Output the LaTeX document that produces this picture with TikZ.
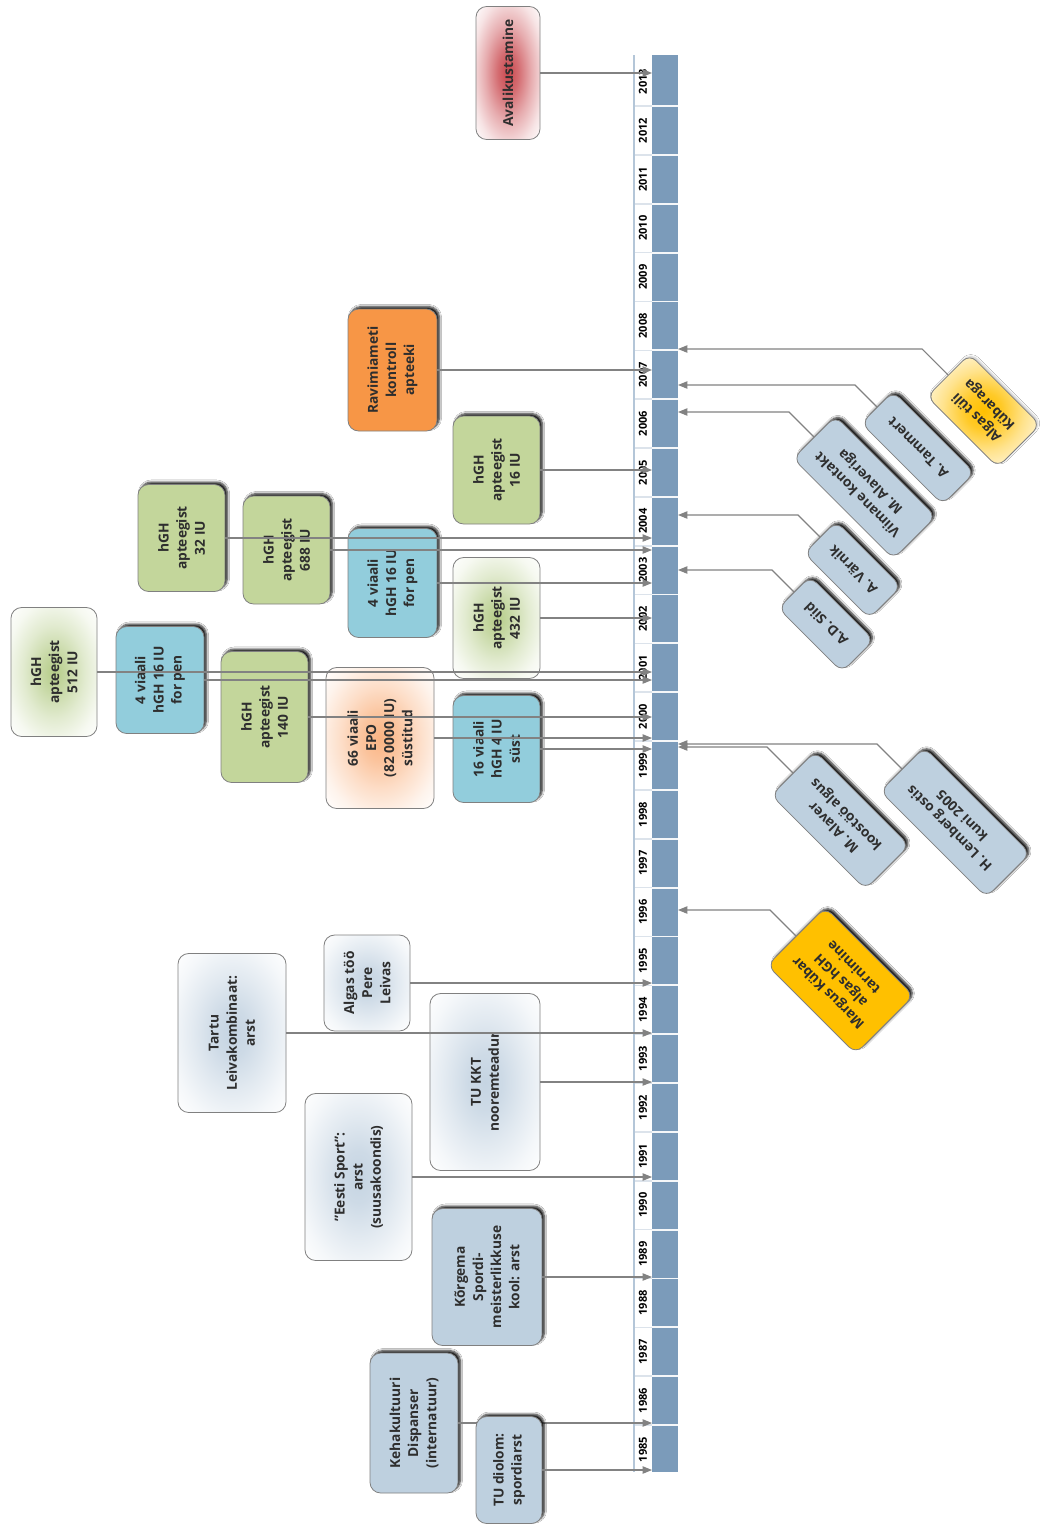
\documentclass[tikz,border=0pt]{standalone}
\usepackage{fontspec}
\setmainfont{Open Sans}
\usetikzlibrary{arrows.meta,shadows.blur}
\definecolor{txt}{HTML}{2E2E2E}
\definecolor{bord}{HTML}{808080}
\definecolor{lgray}{HTML}{828282}
\definecolor{cgreen}{HTML}{C3D69B}
\definecolor{cblue}{HTML}{92CDDC}
\definecolor{corange}{HTML}{F79646}
\definecolor{cslate}{HTML}{BED0DF}
\definecolor{cyellow}{HTML}{FFC000}
\definecolor{cred}{HTML}{C9474D}
\definecolor{cpeach}{HTML}{FAB483}
\definecolor{cmist}{HTML}{C5D4E2}
\definecolor{cgglow}{HTML}{B5CC88}
\definecolor{cbar}{HTML}{7B9BBA}
\definecolor{cstrip}{HTML}{B4C6D8}
\definecolor{csep}{HTML}{DCE3EB}
\pgfdeclareradialshading{glowred}{\pgfpoint{0bp}{0bp}}{color(0bp)=(cred); color(8bp)=(cred!80!white); color(18bp)=(cred!45!white); color(28bp)=(cred!15!white); color(36bp)=(white); color(50bp)=(white)}
\pgfdeclareradialshading{glowgreen}{\pgfpoint{0bp}{0bp}}{color(0bp)=(cgglow); color(8bp)=(cgglow!75!white); color(18bp)=(cgglow!40!white); color(28bp)=(cgglow!12!white); color(36bp)=(white); color(50bp)=(white)}
\pgfdeclareradialshading{glowpeach}{\pgfpoint{0bp}{0bp}}{color(0bp)=(cpeach); color(8bp)=(cpeach!80!white); color(18bp)=(cpeach!45!white); color(28bp)=(cpeach!15!white); color(36bp)=(white); color(50bp)=(white)}
\pgfdeclareradialshading{glowmist}{\pgfpoint{0bp}{0bp}}{color(0bp)=(cmist); color(8bp)=(cmist!85!white); color(18bp)=(cmist!50!white); color(28bp)=(cmist!18!white); color(36bp)=(white); color(50bp)=(white)}
\pgfdeclareradialshading{glowyellow}{\pgfpoint{0bp}{0bp}}{color(0bp)=(cyellow); color(8bp)=(cyellow!85!white); color(18bp)=(cyellow!45!white); color(28bp)=(cyellow!15!white); color(36bp)=(white); color(50bp)=(white)}
\tikzset{
  every node/.style={font=\bfseries\fontsize{10.3}{13.6}\selectfont, text=txt, align=center},
  sz/.style 2 args={minimum width=#1*0.75pt, minimum height=#2*0.75pt, inner sep=1pt},
  shadowed/.style={blur shadow={shadow xshift=1.8pt, shadow yshift=1.8pt, shadow blur radius=1.6pt, shadow blur steps=6, shadow opacity=90}},
  lbox/.style={rounded corners=8pt, draw=bord, line width=0.6pt, rotate=90},
  gbox/.style={lbox, fill=cgreen, shadowed},
  bbox/.style={lbox, fill=cblue, shadowed},
  obox/.style={lbox, fill=corange, shadowed},
  sbox/.style={lbox, fill=cslate, shadowed},
  glow/.style={lbox, shade, shading=#1},
  rbox/.style={rounded corners=7pt, draw=bord, line width=0.6pt, rotate=135, anchor=east},
  rslate/.style={rbox, fill=cslate, shadowed},
  ryellow/.style={rbox, fill=cyellow, shadowed},
  rglow/.style={rbox, shade, shading=glowyellow, blur shadow={shadow xshift=1pt, shadow yshift=1pt, shadow blur radius=1.5pt, shadow opacity=25}},
  arr/.style={draw=lgray, line width=0.8pt, -{Triangle[length=7pt,width=5.5pt]}},
  yearlab/.style={font=\bfseries\fontsize{8.3}{9}\selectfont, text=black, rotate=90, inner sep=0pt}
}
\begin{document}
\begin{tikzpicture}[x=0.75pt,y=-0.75pt]
\useasboundingbox (0,0) rectangle (1043,1528);
\fill[white] (0,0) rectangle (1043,1528);

% timeline
\fill[white] (634,55) rectangle (652,1472);
\fill[cbar] (652,55) rectangle (678,1472);
\foreach \k in {0,...,27}{
  \draw[csep, line width=1.2pt] (634,{1425-\k*48.85}) -- (652,{1425-\k*48.85});
  \draw[white!92!cbar, line width=1.4pt] (652,{1425-\k*48.85}) -- (678,{1425-\k*48.85});
}
\draw[cstrip, line width=1.2pt] (634,55) -- (634,1472);
\foreach \yr in {1985,...,2013}{
  \node[yearlab] (y\yr) at (643,{1425-(\yr-1985-0.5)*48.85}) {\yr};
}
\coordinate (L) at (652,0);
\coordinate (R) at (678,0);

% left boxes
\node[glow=glowred, sz={133}{64}] (aval) at (508,73) {Avalikustamine};
\node[obox, sz={122}{89}] (ravi) at (392.5,370) {Ravimiameti\\kontroll\\apteeki};
\node[gbox, sz={108}{87}] (a16) at (496.5,470) {hGH\\apteegist\\16 IU};
\node[gbox, sz={107}{87}] (a32) at (181.5,538) {hGH\\apteegist\\32 IU};
\node[gbox, sz={108}{87}] (a688) at (286.5,550) {hGH\\apteegist\\688 IU};
\node[bbox, sz={109}{89}] (v2003) at (392.5,583) {4 viaali\\hGH 16 IU\\for pen};
\node[glow=glowgreen, sz={121}{87}] (a432) at (496.5,618) {hGH\\apteegist\\432 IU};
\node[glow=glowgreen, sz={129}{86}] (a512) at (54,672) {hGH\\apteegist\\512 IU};
\node[bbox, sz={107}{88}] (v2001) at (160,680) {4 viaali\\hGH 16 IU\\for pen};
\node[gbox, sz={131}{87}] (a140) at (264.5,717) {hGH\\apteegist\\140 IU};
\node[glow=glowpeach, sz={141}{108}] (epo) at (380,738) {66 viaali\\EPO\\(82 0000 IU)\\süstitud};
\node[bbox, sz={107}{87}] (v16) at (496.5,749) {16 viaali\\hGH 4 IU\\süst};
\node[glow=glowmist, sz={96}{86}] (pere) at (367,983) {Algas töö\\Pere\\Leivas};
\node[glow=glowmist, sz={159}{108}] (tartu) at (232,1033) {Tartu\\Leivakombinaat:\\arst};
\node[glow=glowmist, sz={177}{110}] (kkt) at (485,1082) {TU KKT\\nooremteadur};
\node[glow=glowmist, sz={167}{107}] (eesti) at (358.5,1177) {"Eesti Sport":\\arst\\(suusakoondis)};
\node[sbox, sz={137}{110}] (korg) at (487,1277) {Kõrgema\\Spordi-\\meisterlikkuse\\kool: arst};
\node[sbox, sz={140}{88}] (keha) at (414,1423) {Kehakultuuri\\Dispanser\\(internatuur)};
\draw[arr] (keha.south) -- (keha.south -| L);
\node[sbox, sz={107}{66}] (dipl) at (509,1470) {TU diolom:\\spordiarst};

% right boxes
\node[rglow, sz={100}{60}] (tuli) at (948,375) {Algas tüli\\Kübaraga};
\node[rslate, sz={115}{45}] (tamm) at (877,407) {A. Tammert};
\node[rslate, sz={142}{60}] (viim) at (814,437) {Viimane kontakt\\M. Alaveriga};
\node[rslate, sz={92}{45}] (varn) at (820,537) {A. Värnik};
\node[rslate, sz={90}{45}] (siid) at (794,592) {A.D. Siid};
\node[rslate, sz={133}{62}] (alav) at (793,773) {M. Alaver\\koostöö algus};
\node[rslate, sz={150}{62}] (lemb) at (902,769) {H. Lemberg ostis\\kuni 2005};
\node[ryellow, sz={125}{82}] (kuba) at (796,936) {Margus Kübar\\algas hGH\\tarnimine};

% left connectors
\foreach \n in {aval,ravi,a16,a32,a688,v2003,a432,a512,v2001,a140,epo,v16,pere,tartu,kkt,eesti,korg,dipl}{
  \draw[arr] (\n.south) -- (\n.south -| L);
}

% right connectors
\coordinate (r1) at (678,349);
\coordinate (r2) at (678,385);
\coordinate (r3) at (678,412);
\coordinate (r4) at (678,515);
\coordinate (r5) at (678,570);
\coordinate (r6) at (678,747);
\coordinate (r7) at (678,744);
\coordinate (r8) at (678,910);
\draw[arr] (tuli.east) -- ++(-26,-26) -- (r1);
\draw[arr] (tamm.east) -- ++(-22,-22) -- (r2);
\draw[arr] (viim.east) -- ++(-25,-25) -- (r3);
\draw[arr] (varn.east) -- ++(-22,-22) -- (r4);
\draw[arr] (siid.east) -- ++(-22,-22) -- (r5);
\draw[arr] (alav.east) -- ++(-26,-26) -- (r6);
\draw[arr] (lemb.east) -- ++(-25,-25) -- (r7);
\draw[arr] (kuba.east) -- ++(-26,-26) -- (r8);
\end{tikzpicture}
\end{document}
